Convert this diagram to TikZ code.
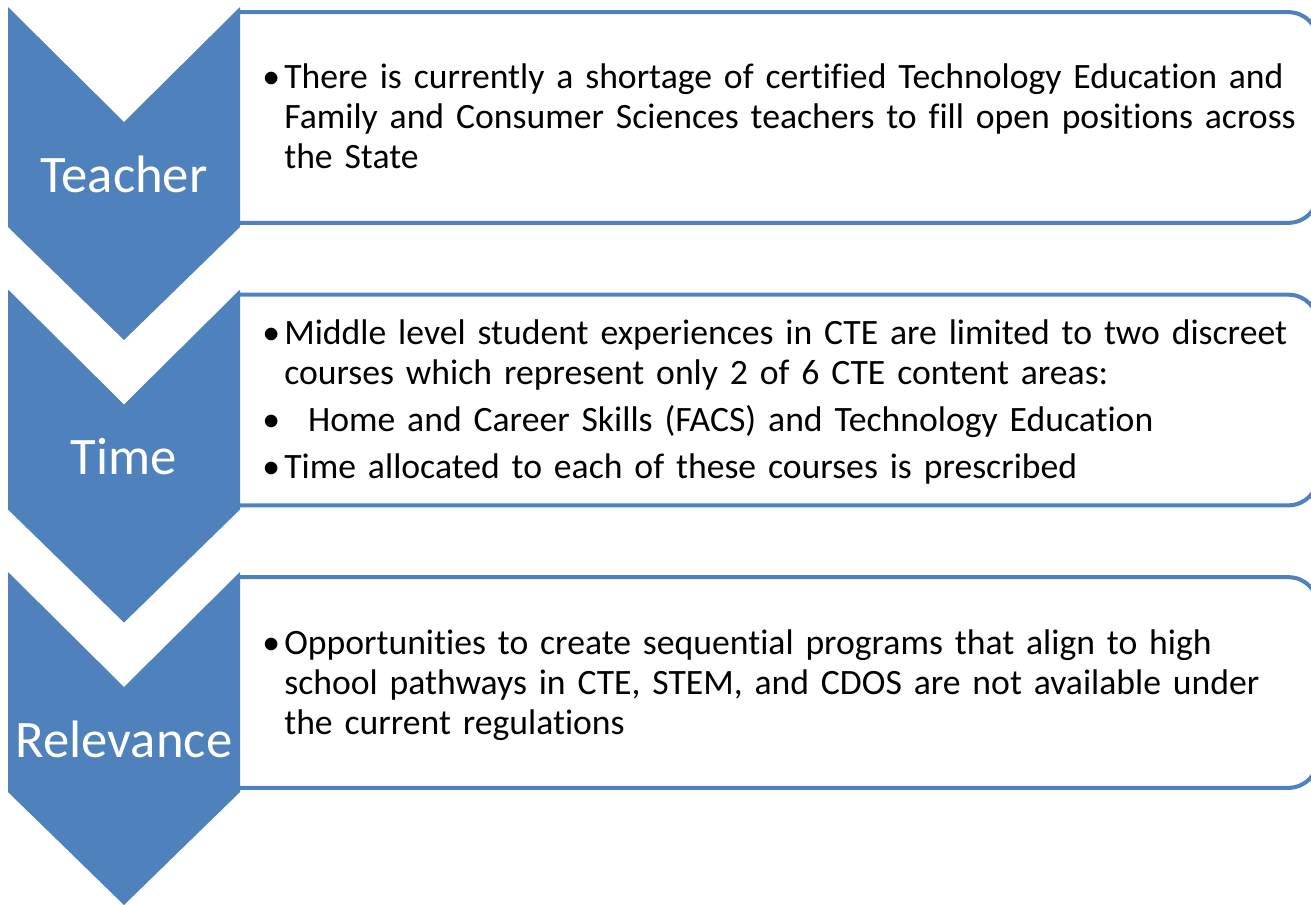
\documentclass[tikz,border=0pt]{standalone}
\usepackage{fontspec}
\setmainfont{Carlito}[Ligatures=NoCommon]
\definecolor{acblue}{RGB}{79,129,189}
\usetikzlibrary{positioning}
\hyphenpenalty=10000
\newcommand{\bitem}[1]{\par\hangindent=12.5pt\hangafter=1\noindent\makebox[12.5pt][l]{\textbullet}#1\par}

\begin{document}
\begin{tikzpicture}[x=0.02cm, y=-0.02cm,
  chev/.style={fill=acblue},
  boxarea/.style={minimum width=21.56cm, minimum height=4.2cm, inner sep=0pt},
  boxline/.style={draw=acblue, line width=2.3pt, rounded corners=17pt},
  chevtext/.style={text=white, inner sep=0pt, font=\fontsize{30}{36}\selectfont},
  bullets/.style={anchor=west, inner sep=0pt, text width=22.5cm, align=left,
    font=\fontsize{20.3}{22.7}\selectfont, execute at begin node=\setlength{\parskip}{4pt}}]
  \useasboundingbox (0,0) rectangle (1311,904);

  % Boxes
  \node[boxarea] (teacherbox) at (779,117.5) {};
  \draw[boxline] (teacherbox.north west) -- (teacherbox.north east) -- (teacherbox.south east) -- (teacherbox.south west);
  \node[boxarea] (timebox) at (779,400) {};
  \draw[boxline] (timebox.north west) -- (timebox.north east) -- (timebox.south east) -- (timebox.south west);
  \node[boxarea] (relevbox) at (779,682.5) {};
  \draw[boxline] (relevbox.north west) -- (relevbox.north east) -- (relevbox.south east) -- (relevbox.south west);

  % Box texts
  \node[bullets] (teachertext) at (262,105) {\bitem{There is currently a shortage of certified Technology Education and\newline Family and Consumer Sciences teachers to fill open positions across\newline the State}};
  \node[bullets] (timetext) at (262,391) {\bitem{Middle level student experiences in CTE are limited to two discreet\newline courses which represent only 2 of 6 CTE content areas:}\bitem{~ Home and Career Skills (FACS) and Technology Education}\bitem{Time allocated to each of these courses is prescribed}};
  \node[bullets] (relevtext) at (262,674) {\bitem{Opportunities to create sequential programs that align to high\newline school pathways in CTE, STEM, and CDOS are not available under\newline the current regulations}};

  % Chevrons
  \fill[chev] (8,7) -- (124,122) -- (240,7) -- (240,227) -- (124,340) -- (8,227) -- cycle;
  \node[chevtext] (teacher) at (124,174) {Teacher};
  \fill[chev] (8,289.5) -- (124,404.5) -- (240,289.5) -- (240,509.5) -- (124,622.5) -- (8,509.5) -- cycle;
  \node[chevtext] (time) at (124,456.5) {Time};
  \fill[chev] (8,572) -- (124,687) -- (240,572) -- (240,792) -- (124,905) -- (8,792) -- cycle;
  \node[chevtext] (relevance) at (124,739) {Relevance};
\end{tikzpicture}
\end{document}
